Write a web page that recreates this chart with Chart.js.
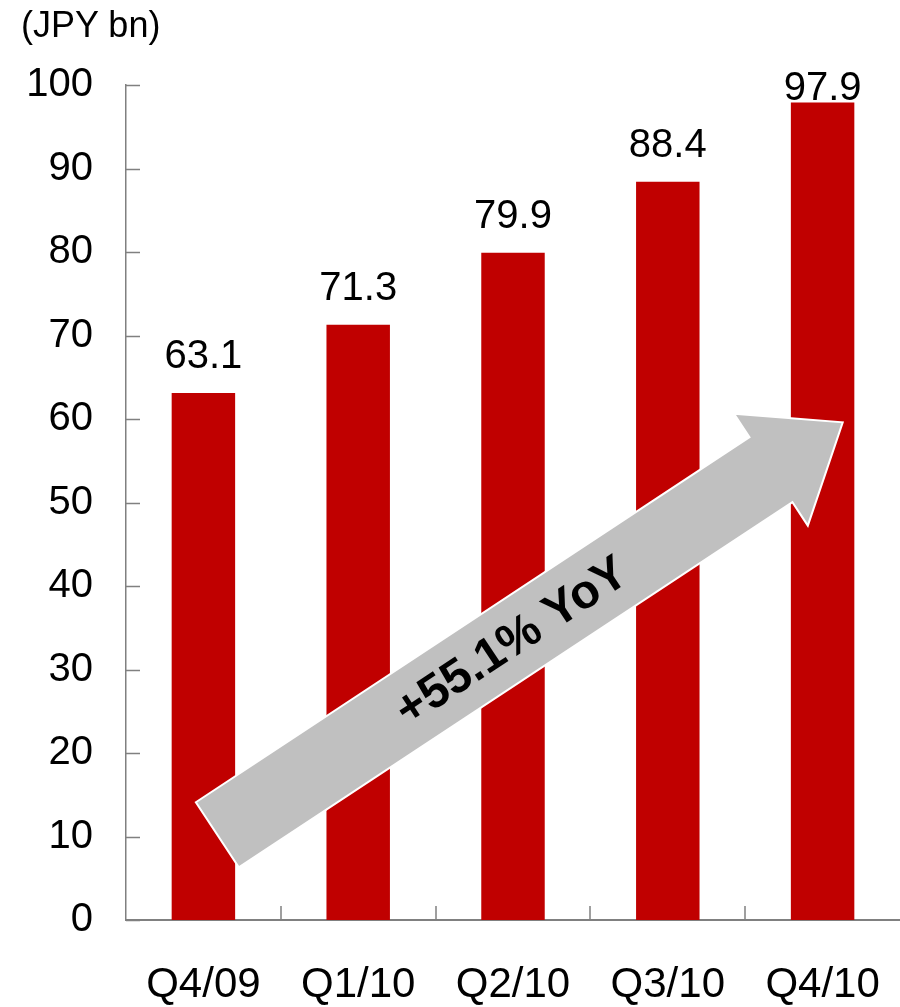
<!DOCTYPE html>
<html>
<head>
<meta charset="utf-8">
<script src="https://cdn.jsdelivr.net/npm/chart.js@4/dist/chart.umd.min.js"></script>
<style>
  html, body { margin: 0; padding: 0; background: #fff; overflow: hidden; }
  #wrap { position: relative; width: 900px; height: 1007px; }
  #salesChart { display: block; }
  #unit { position: absolute; left: 21px; top: 4px; font: 36px "Liberation Sans", Arial, sans-serif; color: #000; }
</style>
</head>
<body>
<div id="wrap">
  <div id="unit">(JPY bn)</div>
  <canvas id="salesChart" width="900" height="1007"></canvas>
</div>
<script>
const quarters = ['Q4/09', 'Q1/10', 'Q2/10', 'Q3/10', 'Q4/10'];
const sales = [63.1, 71.3, 79.9, 88.4, 97.9];
const yTicks = [0, 10, 20, 30, 40, 50, 60, 70, 80, 90, 100];
const growthText = '+55.1% YoY';

const FONT = '"Liberation Sans", Arial, sans-serif';
const AXIS_COLOR = '#808080';

// value labels above each bar
const barLabels = {
  id: 'barLabels',
  afterDatasetsDraw(chart) {
    const ctx = chart.ctx;
    const meta = chart.getDatasetMeta(0);
    ctx.save();
    ctx.font = '40px ' + FONT;
    ctx.fillStyle = '#000';
    ctx.textAlign = 'center';
    ctx.textBaseline = 'alphabetic';
    meta.data.forEach((bar, i) => {
      // keep the label from running off the top of the plot
      const y = Math.max(bar.y - 25, chart.chartArea.top + 15);
      ctx.fillText(sales[i].toFixed(1), bar.x, y);
    });
    ctx.restore();
  }
};

// short inward tick marks on both axes
const innerTicks = {
  id: 'innerTicks',
  afterDraw(chart) {
    const ctx = chart.ctx;
    const x = chart.scales.x;
    const y = chart.scales.y;
    const area = chart.chartArea;
    ctx.save();
    ctx.strokeStyle = AXIS_COLOR;
    ctx.lineWidth = 1.5;
    ctx.beginPath();
    yTicks.forEach(v => {
      const py = Math.round(y.getPixelForValue(v)) + 0.5;
      ctx.moveTo(area.left, py);
      ctx.lineTo(area.left + 14, py);
    });
    for (let i = 1; i < quarters.length; i++) {
      const px = Math.round((x.getPixelForValue(i - 1) + x.getPixelForValue(i)) / 2);
      ctx.moveTo(px, area.bottom);
      ctx.lineTo(px, area.bottom - 14);
    }
    ctx.stroke();
    // run the baseline out to the canvas edge
    ctx.lineWidth = 2;
    ctx.beginPath();
    ctx.moveTo(area.right, area.bottom);
    ctx.lineTo(chart.width, area.bottom);
    ctx.stroke();
    ctx.restore();
  }
};

// grey growth arrow from the first quarter up to the last one
const growthArrow = {
  id: 'growthArrow',
  afterDatasetsDraw(chart) {
    const ctx = chart.ctx;
    const x = chart.scales.x;
    const y = chart.scales.y;
    const step = x.getPixelForValue(1) - x.getPixelForValue(0);
    const x0 = x.getPixelForValue(0) + step * 0.09;
    const y0 = y.getPixelForValue(10.2);
    const x1 = x.getPixelForValue(4) + step * 0.13;
    const y1 = y.getPixelForValue(59.6);
    const len = Math.hypot(x1 - x0, y1 - y0);
    const ang = Math.atan2(y1 - y0, x1 - x0);
    const shaft = 78, head = 134, headLen = 86;

    ctx.save();
    ctx.translate(x0, y0);
    ctx.rotate(ang);
    ctx.beginPath();
    ctx.moveTo(0, -shaft / 2);
    ctx.lineTo(len - headLen, -shaft / 2);
    ctx.lineTo(len - headLen, -head / 2);
    ctx.lineTo(len, 0);
    ctx.lineTo(len - headLen, head / 2);
    ctx.lineTo(len - headLen, shaft / 2);
    ctx.lineTo(0, shaft / 2);
    ctx.closePath();
    ctx.fillStyle = '#c0c0c0';
    ctx.fill();
    ctx.strokeStyle = '#fff';
    ctx.lineWidth = 2;
    ctx.stroke();

    ctx.font = 'bold 48px ' + FONT;
    ctx.fillStyle = '#000';
    ctx.textAlign = 'center';
    ctx.textBaseline = 'middle';
    ctx.fillText(growthText, len * 0.47, 2);
    ctx.restore();
  }
};

new Chart(document.getElementById('salesChart'), {
  type: 'bar',
  data: {
    labels: quarters,
    datasets: [{
      data: sales,
      backgroundColor: '#c00000',
      borderWidth: 0,
      barPercentage: 0.41,
      categoryPercentage: 1
    }]
  },
  options: {
    responsive: false,
    animation: false,
    layout: { padding: { top: 85, right: 0, left: 0, bottom: 0 } },
    plugins: {
      legend: { display: false },
      tooltip: { enabled: false }
    },
    scales: {
      x: {
        grid: { display: false, drawTicks: false },
        border: { display: true, color: AXIS_COLOR, width: 2 },
        ticks: { color: '#000', font: { family: FONT, size: 42 }, padding: 40, maxRotation: 0 },
        afterFit(scale) {
          scale.height = 87;
          // the axis runs to the right edge of the canvas
          scale.paddingLeft = 0;
          scale.paddingRight = 0;
        }
      },
      y: {
        min: 0,
        max: 100,
        grid: { display: false, drawTicks: false },
        border: { display: true, color: AXIS_COLOR, width: 1.5 },
        ticks: { stepSize: 10, color: '#000', font: { family: FONT, size: 40 }, padding: 33 },
        afterFit(scale) { scale.width = 126; }
      }
    }
  },
  plugins: [growthArrow, barLabels, innerTicks]
});
</script>
</body>
</html>
